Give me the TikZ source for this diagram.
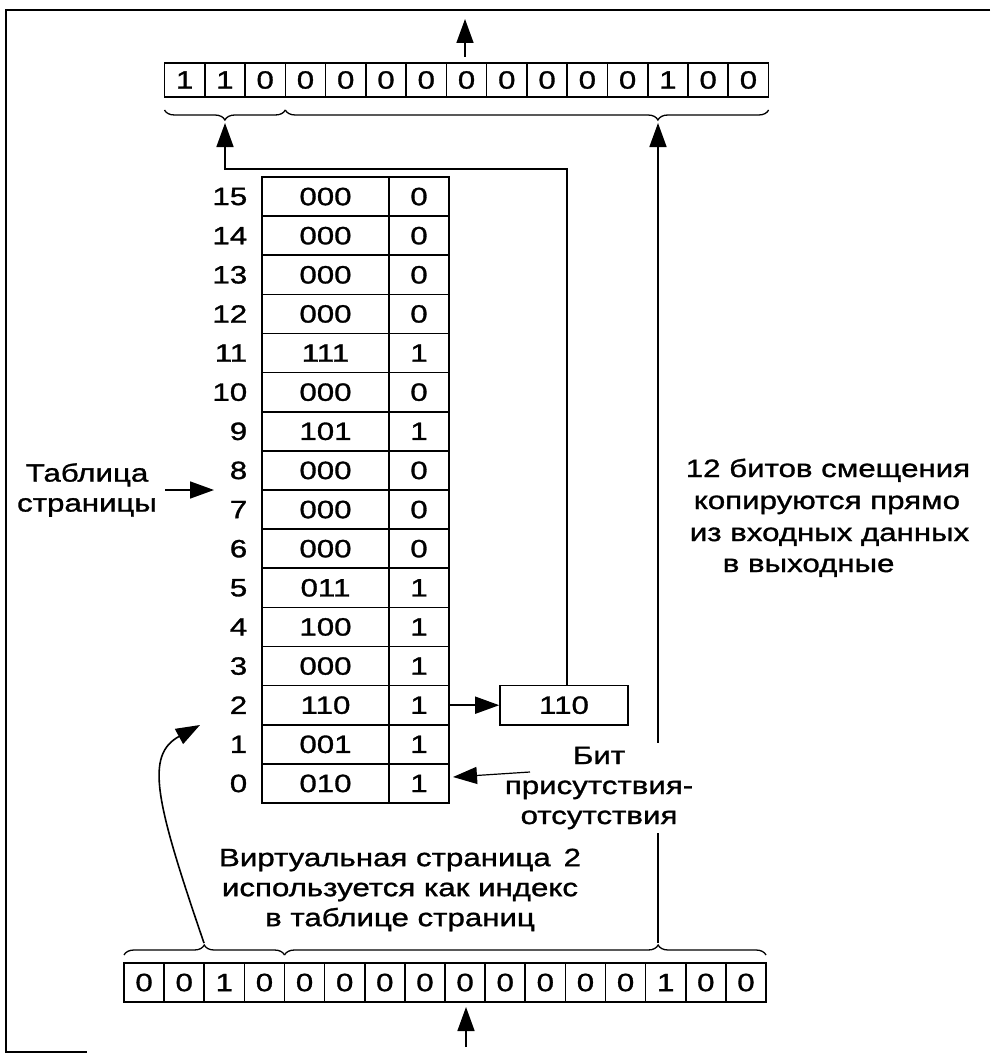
\documentclass[tikz,border=0pt]{standalone}
\usepackage{fontspec}
\setmainfont{Liberation Sans}[FakeStretch=1.25,FakeBold=1.2]
\usetikzlibrary{arrows.meta,decorations.pathreplacing}
\begin{document}
\begin{tikzpicture}[x=1pt,y=-1pt,
  line width=1.6pt,
  every node/.style={font=\fontsize{25}{30}\selectfont},
  cell/.style={draw, line width=1.6pt, inner sep=0pt, anchor=center},
  regtop/.style={cell, minimum width=40.27pt, minimum height=34pt},
  regbot/.style={cell, minimum width=40.125pt, minimum height=39pt},
  framecell/.style={cell, minimum width=127pt, minimum height=39.125pt},
  bitcell/.style={cell, minimum width=60pt, minimum height=39.125pt},
  arr/.style={-{Triangle[length=24pt,width=17pt]}, line width=1.6pt},
  brc/.style={decorate, line width=1.3pt, decoration={brace, amplitude=10pt, #1}},
  txt/.style={inner sep=0pt},
  blk/.style={align=center, inner sep=0pt}
]
\useasboundingbox (0,0) rectangle (990,1054);
% frame
\draw (990,10) -- (6,10) -- (6,1052) -- (87,1052);

% top register (15 bits)
\foreach \v [count=\i] in {1,1,0,0,0,0,0,0,0,0,0,0,1,0,0}
  \node[regtop] (t\i) at ({164.5+(\i-0.5)*40.27},80) {\v};
% bottom register (16 bits)
\foreach \v [count=\i] in {0,0,1,0,0,0,0,0,0,0,0,0,0,1,0,0}
  \node[regbot] (b\i) at ({124+(\i-0.5)*40.125},982.5) {\v};

% page table
\foreach \r/\a/\b in {15/000/0,14/000/0,13/000/0,12/000/0,11/111/1,10/000/0,9/101/1,8/000/0,7/000/0,6/000/0,5/011/1,4/100/1,3/000/1,2/110/1,1/001/1,0/010/1}{
  \pgfmathsetmacro\yc{177+(15-\r)*39.125+19.5625}
  \node[framecell] (f\r) at (325.5,\yc) {\a};
  \node[bitcell] (p\r) at (419,\yc) {\b};
  \node[txt, anchor=east] (l\r) at (248,\yc) {\r};
}

% output frame box
\node[framecell, minimum width=128pt] (box) at (564,{177+13*39.125+19.5625}) {110};

% braces
\draw[brc={mirror}] (164.5,110) -- (285.3,110);
\draw[brc={mirror,aspect=0.771}] (285.3,110) -- (768.6,110);
\draw[brc={}] (124,955) -- (284.5,955);
\draw[brc={aspect=0.776}] (284.5,955) -- (766,955);

\coordinate (tb1) at (225,123);
\coordinate (tb2) at (658,123);
\coordinate (bb1) at (204,943);
\coordinate (bb2) at (658,943);
\coordinate (c1) at (567,169);
\coordinate (c2) at (225,169);
\coordinate (cv) at (200,725);

% connectors
\draw[arr] (p2.east) -- (box.west);
\draw[arr] (box.north -| c1) -- (c1) -- (c2) -- (tb1);
\draw[arr] (bb2) -- (tb2);
\draw[arr] (bb1) .. controls (155,800) and (145,755) .. (cv);

\coordinate (ua1) at (465,57);
\coordinate (ua2) at (465,19);
\draw[arr] (ua1) -- (ua2);
\coordinate (da1) at (466,1047);
\coordinate (da2) at (466,1007);
\draw[arr] (da1) -- (da2);

% labels
\node[blk] (tl) at (87,490) {Таблица\\страницы};
\coordinate (ta1) at (165,490);
\coordinate (ta2) at (214,490);
\draw[arr] (ta1) -- (ta2);

\node[blk, fill=white, inner sep=4pt] (bit) at (599,788) {Бит\\присутствия-\\отсутствия};
\coordinate (bt1) at (530,772);
\coordinate (bt2) at (453,777);
\draw[arr, line width=1.2pt] (bt1) -- (bt2);

\node[blk] (vt) at (400,890) {Виртуальная страница\ \,2\\используется как индекс\\в таблице страниц};

\node[txt, anchor=base west] (r1) at (685,477) {12 битов смещения};
\node[txt, anchor=base west] (r2) at (693,509) {копируются прямо};
\node[txt, anchor=base west] (r3) at (689,541) {из входных данных};
\node[txt, anchor=base west] (r4) at (722,572) {в выходные};
\end{tikzpicture}
\end{document}
